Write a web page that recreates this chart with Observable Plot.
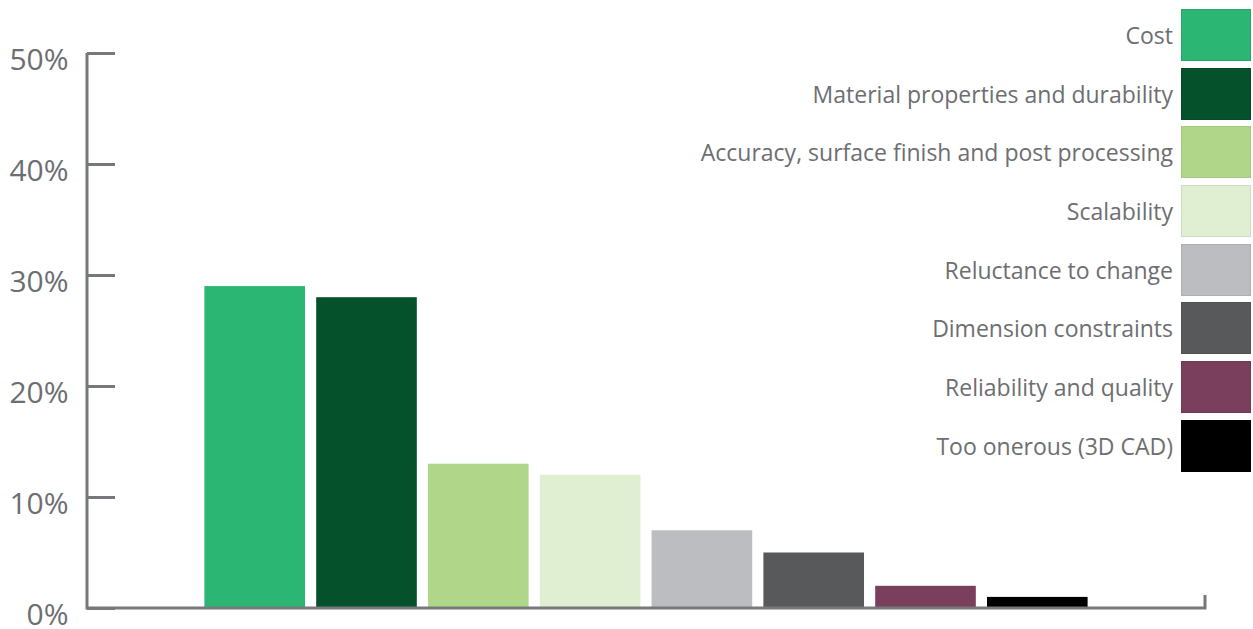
<!DOCTYPE html>
<html>
<head>
<meta charset="utf-8">
<script src="https://cdn.jsdelivr.net/npm/d3@7"></script>
<script src="https://cdn.jsdelivr.net/npm/@observablehq/plot@0.6"></script>
<style>
  html, body { margin: 0; padding: 0; background: #fff; }
  #wrap { position: relative; width: 1253px; height: 629px; overflow: hidden; }
  #legend { position: absolute; right: 2px; top: 9px; font-family: "Open Sans", sans-serif; font-size: 23px; color: #6d6e71; }
  .row { display: flex; align-items: center; justify-content: flex-end; height: 52px; margin-bottom: 6.7px; }
  .row span { margin-right: 8px; white-space: nowrap; }
  .sw { width: 70px; height: 52px; box-sizing: border-box; border: 1px solid rgba(0,0,0,0.08); }
</style>
</head>
<body>
<div id="wrap"><div id="legend"></div></div>
<script>
const categories = [
  "Cost",
  "Material properties and durability",
  "Accuracy, surface finish and post processing",
  "Scalability",
  "Reluctance to change",
  "Dimension constraints",
  "Reliability and quality",
  "Too onerous (3D CAD)"
];
const values = [29, 28, 13, 12, 7, 5, 2, 1];
const colors = ["#2bb673", "#05512c", "#b0d68a", "#e0eed2", "#bcbdc0", "#58595b", "#7a3f5c", "#000000"];
const yTicks = [0, 10, 20, 30, 40, 50];

const data = categories.map((c, i) => ({category: c, value: values[i]}));
const axisColor = "#77787b";

const axisLines = (index, scales, values, dims) => {
  const g = d3.create("svg:g");
  const x0 = dims.marginLeft, x1 = dims.width - dims.marginRight;
  const y0 = scales.y(0), yTop = scales.y(50);
  g.append("path")
    .attr("d", `M${x0},${yTop}V${y0}H${x1}V${y0 - 13}`)
    .attr("fill", "none").attr("stroke", axisColor).attr("stroke-width", 3);
  return g.node();
};

const chart = Plot.plot({
  width: 1253,
  height: 629,
  marginLeft: 87,
  marginRight: 48,
  marginTop: 53,
  marginBottom: 21,
  style: {fontFamily: "Open Sans, sans-serif", background: "transparent"},
  x: {domain: categories, paddingInner: 0.1, paddingOuter: 1.05, round: false, axis: null},
  y: {domain: [0, 50], axis: null},
  color: {domain: categories, range: colors},
  marks: [
    Plot.barY(data, {x: "category", y: "value", fill: "category"}),
    Plot.axisY(yTicks, {anchor: "left", label: null, tickSize: -28, tickFormat: () => "", stroke: axisColor, strokeWidth: 3}),
    Plot.axisY(yTicks, {anchor: "left", label: null, tickSize: 0, tickPadding: 19, dy: 7, tickFormat: d => d + "%", fontSize: 30, fill: "#6d6e71"}),
    axisLines
  ]
});
document.getElementById("wrap").prepend(chart);
chart.style.position = "absolute";
chart.style.left = "0";
chart.style.top = "0";

const legend = document.getElementById("legend");
categories.forEach((c, i) => {
  const row = document.createElement("div");
  row.className = "row";
  const t = document.createElement("span");
  t.textContent = c;
  const s = document.createElement("div");
  s.className = "sw";
  s.style.background = colors[i];
  row.append(t, s);
  legend.append(row);
});
</script>
</body>
</html>
